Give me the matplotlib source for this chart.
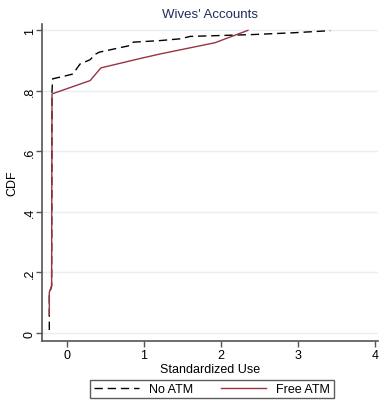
import matplotlib
matplotlib.use("Agg")
import matplotlib.pyplot as plt

plt.rcParams['font.family'] = ['Liberation Sans', 'DejaVu Sans']

# Data (piecewise CDF curves)
no_atm_x = [-0.23, -0.23, -0.20, -0.195, -0.186, -0.03, 0.08, 0.13, 0.17, 0.30, 0.36, 0.42, 0.82, 0.86, 1.20, 1.47, 1.60, 2.40, 2.94, 3.42]
no_atm_y = [0.01, 0.13, 0.155, 0.80, 0.84, 0.849, 0.856, 0.875, 0.889, 0.903, 0.92, 0.928, 0.95, 0.961, 0.966, 0.972, 0.98, 0.986, 0.992, 0.999]

free_atm_x = [-0.23, -0.23, -0.20, -0.195, 0.30, 0.44, 0.95, 1.21, 1.92, 2.35]
free_atm_y = [0.06, 0.135, 0.155, 0.79, 0.834, 0.876, 0.907, 0.922, 0.959, 1.0]

y_ticks = [0, 0.2, 0.4, 0.6, 0.8, 1.0]
y_ticklabels = ["0", ".2", ".4", ".6", ".8", "1"]
x_ticks = [0, 1, 2, 3, 4]
x_ticklabels = ["0", "1", "2", "3", "4"]

W, H = 380, 402
fig = plt.figure(figsize=(W / 100, H / 100), dpi=100)
ax = fig.add_axes([42 / W, 60 / H, 336 / W, 317 / H])

ax.plot(no_atm_x, no_atm_y, color='black', lw=1.0, dashes=(6, 3.5), label='No ATM')
ax.plot(free_atm_x, free_atm_y, color='#993344', lw=1.0, label='Free ATM')

ax.set_xlim(-0.325, 4.04)
ax.set_ylim(-0.0264, 1.021)
ax.set_yticks(y_ticks)
ax.set_yticklabels(y_ticklabels, rotation=90, va='center')
ax.set_xticks(x_ticks)
ax.set_xticklabels(x_ticklabels)

ax.yaxis.grid(True, color='#e6eff1', lw=1.0)
ax.set_axisbelow(True)

for s in ['top', 'right']:
    ax.spines[s].set_visible(False)
for s in ['left', 'bottom']:
    ax.spines[s].set_color('#555555')
    ax.spines[s].set_linewidth(1.2)

ax.tick_params(axis='both', colors='#555555', labelcolor='black', length=4, width=1, labelsize=9)
ax.tick_params(axis='y', pad=0.5)
ax.tick_params(axis='x', pad=2)

ax.set_ylabel('CDF', fontsize=9)
ax.yaxis.set_label_coords(-24 / 336, 0.5)
ax.set_xlabel('Standardized Use', fontsize=9, labelpad=1)
ax.set_title("Wives' Accounts", fontsize=9.5, color='#1f2d5c', pad=5)

leg = fig.legend(loc='upper center', bbox_to_anchor=(212 / W, 21 / H), ncol=2,
                 fontsize=9, frameon=True, fancybox=False, handlelength=3.6,
                 columnspacing=2.3, borderpad=0.25, handletextpad=0.8,
                 borderaxespad=0.0)
leg.get_frame().set_edgecolor('#333333')
leg.get_frame().set_linewidth(1.0)

fig.savefig('out.png', dpi=100)
